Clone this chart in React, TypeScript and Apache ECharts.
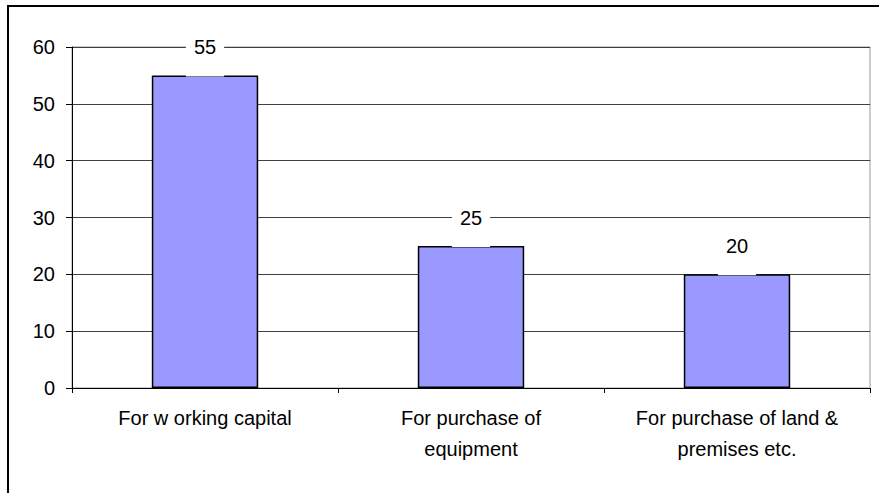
import React, { useEffect, useRef } from "react";
import * as echarts from "echarts";

const categories = [
  "For w orking capital",
  "For purchase of\nequipment",
  "For purchase of land &\npremises etc.",
];
const values = [55, 25, 20];
const yTicks = { min: 0, max: 60, interval: 10 };

const FONT = "'Liberation Sans', Arial, sans-serif";

export default function App() {
  const ref = useRef<HTMLDivElement>(null);
  useEffect(() => {
    document.body.style.margin = "0";
    const chart = echarts.init(ref.current!, null, { renderer: "svg" });
    chart.setOption({
      animation: false,
      backgroundColor: "#ffffff",
      textStyle: { fontFamily: FONT },
      graphic: [
        {
          type: "rect",
          shape: { x: 8, y: 6, width: 1000, height: 1000 },
          style: { fill: "none", stroke: "#000", lineWidth: 2 },
          silent: true,
          z: 100,
        },
      ],
      grid: {
        left: 72,
        right: 9,
        top: 47,
        bottom: 105,
        show: true,
        borderColor: "#999999",
        borderWidth: 1,
        backgroundColor: "transparent",
      },
      xAxis: {
        type: "category",
        data: categories,
        axisLine: { show: true, lineStyle: { color: "#000", width: 1 } },
        axisTick: { show: true, alignWithLabel: false, length: 5, lineStyle: { color: "#000" } },
        axisLabel: {
          fontSize: 20,
          color: "#000",
          fontFamily: FONT,
          lineHeight: 31,
          margin: 14,
          interval: 0,
        },
      },
      yAxis: {
        type: "value",
        min: yTicks.min,
        max: yTicks.max,
        interval: yTicks.interval,
        axisLine: { show: true, lineStyle: { color: "#000", width: 1 } },
        axisTick: { show: true, length: 6, lineStyle: { color: "#000" } },
        axisLabel: { fontSize: 20, color: "#000", fontFamily: FONT, margin: 17 },
        splitLine: { show: true, lineStyle: { color: "#404040", width: 1 } },
      },
      series: [
        {
          type: "bar",
          data: values,
          barWidth: "40%",
          itemStyle: { color: "#9999FF", borderColor: "#000", borderWidth: 1.5 },
          label: {
            show: true,
            position: "top",
            distance: -1,
            fontSize: 20,
            color: "#000",
            fontFamily: FONT,
            backgroundColor: "#ffffff",
            padding: [4, 8, 19, 8],
          },
        },
      ],
    });
    return () => chart.dispose();
  }, []);
  return (
    <div
      ref={ref}
      style={{ position: "fixed", left: 0, top: 0, width: 879, height: 493 }}
    />
  );
}
